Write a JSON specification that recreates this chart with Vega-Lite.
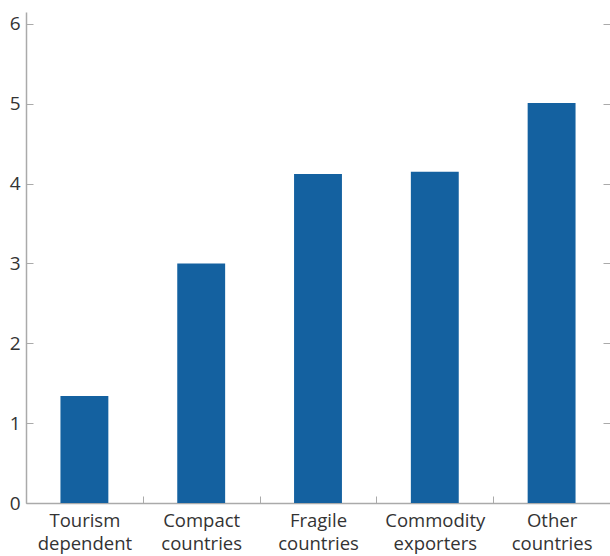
{
  "$schema": "https://vega.github.io/schema/vega-lite/v6.json",
  "autosize": "none",
  "width": 584,
  "height": 491,
  "padding": {"left": 26, "top": 12, "right": 0, "bottom": 53},
  "config": {
    "view": {"stroke": null},
    "axis": {"labelFont": "Open Sans", "labelColor": "#333333", "domainColor": "#aaaaaa", "tickColor": "#aaaaaa", "grid": false, "title": null}
  },
  "data": {"values": [
    {"group": "Tourism dependent", "value": 1.34},
    {"group": "Compact countries", "value": 3.0},
    {"group": "Fragile countries", "value": 4.12},
    {"group": "Commodity exporters", "value": 4.15},
    {"group": "Other countries", "value": 5.01}
  ]},
  "resolve": {"axis": {"y": "independent"}},
  "layer": [
    {
      "mark": {"type": "bar", "color": "#1461a0", "width": {"band": 0.41}},
      "encoding": {
        "x": {"field": "group", "type": "nominal", "sort": null, "scale": {"paddingInner": 0, "paddingOuter": 0},
          "axis": {"labelAngle": 0, "labelFontSize": 18.5, "labelExpr": "datum.value ? split(datum.value, ' ') : ''", "labelLineHeight": 23, "tickBand": "extent", "tickSize": -7, "labelPadding": 15, "domainWidth": 1.5}},
        "y": {"field": "value", "type": "quantitative", "scale": {"domain": [0, 6.15], "nice": false},
          "axis": {"orient": "left", "values": [0,1,2,3,4,5,6], "tickSize": -7, "labelPadding": 13, "labelFontSize": 19, "domainWidth": 1.5}}
      }
    },
    {
      "mark": {"type": "bar", "opacity": 0},
      "encoding": {
        "x": {"field": "group", "type": "nominal", "sort": null},
        "y": {"field": "value", "type": "quantitative",
          "axis": {"orient": "right", "values": [0,1,2,3,4,5,6], "tickSize": -7, "labels": false, "domain": false}}
      }
    }
  ]
}
